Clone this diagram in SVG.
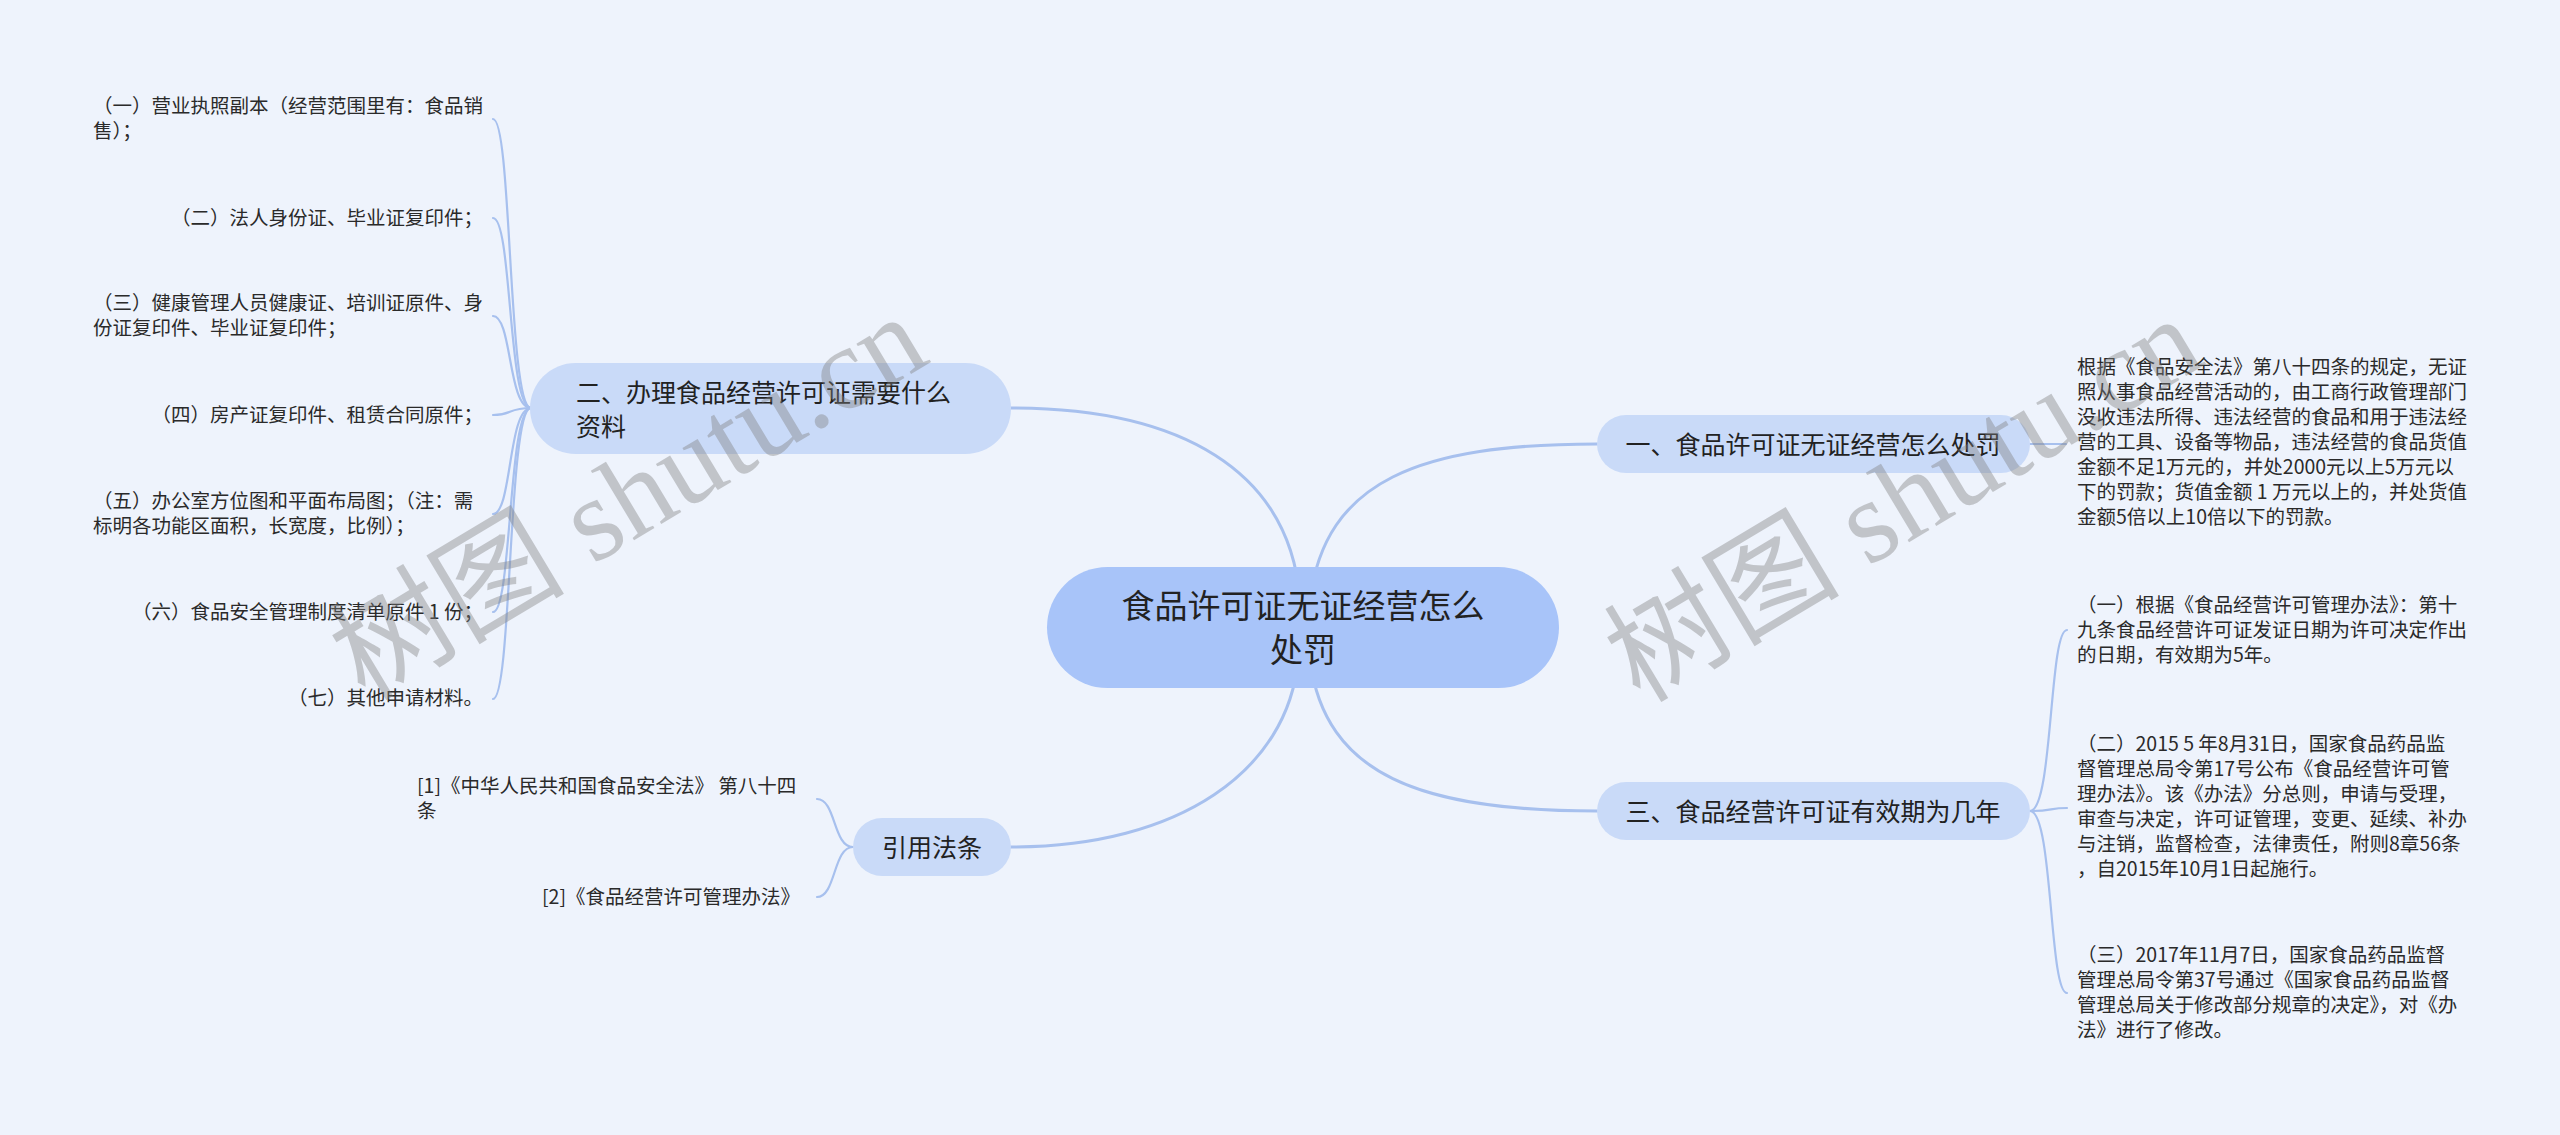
<svg xmlns="http://www.w3.org/2000/svg" width="2560" height="1135" viewBox="0 0 2560 1135">
<style>
.conn{fill:none;stroke:#a7c0ee;stroke-width:3;stroke-linecap:round}
.brace{fill:none;stroke:#a7c0ee;stroke-width:2.2;stroke-linecap:round}
.n0{fill:#a8c4f9}
.n1{fill:#c9daf8}
.t{font-family:"Noto Sans CJK SC","Liberation Sans",sans-serif;fill:#222}
.main{font-size:33px}
.sub{font-size:25px}
.leaf{font-size:19.5px;fill:#2a2a2a}
.wm{font-family:"Liberation Serif","Noto Sans CJK SC",serif;font-size:118px;fill:#7f7f7f;opacity:0.4}
</style>
<rect x="0" y="0" width="2560" height="1135" fill="#eef3fc"/>

<g id="connectors">
<path class="conn" d="M1011 408 C1180 408 1290 470 1300 600"/>
<path class="conn" d="M1597 444 C1420 444 1325 480 1310 600"/>
<path class="conn" d="M1597 811 C1420 811 1325 775 1310 660"/>
<path class="conn" d="M1011 847 C1180 847 1288 770 1298 660"/>
<path class="brace" d="M531 408 C508 408 512 119 493 119"/>
<path class="brace" d="M531 408 C508 408 512 218 493 218"/>
<path class="brace" d="M531 408 C508 408 512 316 493 316"/>
<path class="brace" d="M531 408 C508 408 512 415 493 415"/>
<path class="brace" d="M531 408 C508 408 512 514 493 514"/>
<path class="brace" d="M531 408 C508 408 512 612 493 612"/>
<path class="brace" d="M531 408 C508 408 512 699 493 699"/>
<path class="brace" d="M853 847 C833 847 836 799 817 799"/>
<path class="brace" d="M853 847 C833 847 836 897 817 897"/>
<path class="brace" d="M2030 444 L2066 444"/>
<path class="brace" d="M2030 811 C2053 811 2049 630 2067 630"/>
<path class="brace" d="M2030 811 C2053 811 2049 808 2067 808"/>
<path class="brace" d="M2030 811 C2053 811 2049 993 2067 993"/>
</g>

<g id="node-root">
<rect class="n0" x="1047" y="567" width="512" height="121" rx="60.5"/>
<text class="t main" text-anchor="middle"><tspan x="1303" y="618">食品许可证无证经营怎么</tspan><tspan x="1303" y="662">处罚</tspan></text>
</g>

<g id="node-1">
<rect class="n1" x="1597" y="415" width="433" height="58" rx="29"/>
<text class="t sub" x="1813" y="454" text-anchor="middle">一、食品许可证无证经营怎么处罚</text>
</g>

<g id="node-2">
<rect class="n1" x="530" y="363" width="481" height="91" rx="45.5"/>
<text class="t sub"><tspan x="576" y="402">二、办理食品经营许可证需要什么</tspan><tspan x="576" y="436">资料</tspan></text>
</g>

<g id="node-3">
<rect class="n1" x="1597" y="782" width="433" height="58" rx="29"/>
<text class="t sub" x="1813" y="821" text-anchor="middle">三、食品经营许可证有效期为几年</text>
</g>

<g id="node-4">
<rect class="n1" x="853" y="818" width="158" height="58" rx="29"/>
<text class="t sub" x="932" y="857" text-anchor="middle">引用法条</text>
</g>

<g id="leaf-2-1"><text class="t leaf"><tspan x="93" y="113">（一）营业执照副本（经营范围里有：食品销</tspan><tspan x="93" y="138">售）；</tspan></text></g>
<g id="leaf-2-2"><text class="t leaf" x="483" y="225" text-anchor="end">（二）法人身份证、毕业证复印件；</text></g>
<g id="leaf-2-3"><text class="t leaf"><tspan x="93" y="310">（三）健康管理人员健康证、培训证原件、身</tspan><tspan x="93" y="335">份证复印件、毕业证复印件；</tspan></text></g>
<g id="leaf-2-4"><text class="t leaf" x="483" y="422" text-anchor="end">（四）房产证复印件、租赁合同原件；</text></g>
<g id="leaf-2-5"><text class="t leaf"><tspan x="93" y="508">（五）办公室方位图和平面布局图；（注：需</tspan><tspan x="93" y="533">标明各功能区面积，长宽度，比例）；</tspan></text></g>
<g id="leaf-2-6"><text class="t leaf" x="483" y="619" text-anchor="end">（六）食品安全管理制度清单原件 1 份；</text></g>
<g id="leaf-2-7"><text class="t leaf" x="483" y="705" text-anchor="end">（七）其他申请材料。</text></g>

<g id="leaf-4-1"><text class="t leaf"><tspan x="417" y="793">[1]《中华人民共和国食品安全法》 第八十四</tspan><tspan x="417" y="818">条</tspan></text></g>
<g id="leaf-4-2"><text class="t leaf" x="800" y="904" text-anchor="end">[2]《食品经营许可管理办法》</text></g>

<g id="leaf-1-1"><text class="t leaf">
<tspan x="2077" y="374">根据《食品安全法》第八十四条的规定，无证</tspan>
<tspan x="2077" y="399">照从事食品经营活动的，由工商行政管理部门</tspan>
<tspan x="2077" y="424">没收违法所得、违法经营的食品和用于违法经</tspan>
<tspan x="2077" y="449">营的工具、设备等物品，违法经营的食品货值</tspan>
<tspan x="2077" y="474">金额不足1万元的，并处2000元以上5万元以</tspan>
<tspan x="2077" y="499">下的罚款；货值金额 1 万元以上的，并处货值</tspan>
<tspan x="2077" y="524">金额5倍以上10倍以下的罚款。</tspan>
</text></g>

<g id="leaf-3-1"><text class="t leaf">
<tspan x="2077" y="612">（一）根据《食品经营许可管理办法》：第十</tspan>
<tspan x="2077" y="637">九条食品经营许可证发证日期为许可决定作出</tspan>
<tspan x="2077" y="662">的日期，有效期为5年。</tspan>
</text></g>

<g id="leaf-3-2"><text class="t leaf">
<tspan x="2077" y="751">（二）2015 5 年8月31日，国家食品药品监</tspan>
<tspan x="2077" y="776">督管理总局令第17号公布《食品经营许可管</tspan>
<tspan x="2077" y="801">理办法》。该《办法》分总则，申请与受理，</tspan>
<tspan x="2077" y="826">审查与决定，许可证管理，变更、延续、补办</tspan>
<tspan x="2077" y="851">与注销，监督检查，法律责任，附则8章56条</tspan>
<tspan x="2077" y="876">，自2015年10月1日起施行。</tspan>
</text></g>

<g id="leaf-3-3"><text class="t leaf">
<tspan x="2077" y="962">（三）2017年11月7日，国家食品药品监督</tspan>
<tspan x="2077" y="987">管理总局令第37号通过《国家食品药品监督</tspan>
<tspan x="2077" y="1012">管理总局关于修改部分规章的决定》，对《办</tspan>
<tspan x="2077" y="1037">法》进行了修改。</tspan>
</text></g>

<text class="wm" transform="translate(365 702) rotate(-31)">树图 shutu.cn</text>
<text class="wm" transform="translate(1640 704) rotate(-31)">树图 shutu.cn</text>
</svg>
